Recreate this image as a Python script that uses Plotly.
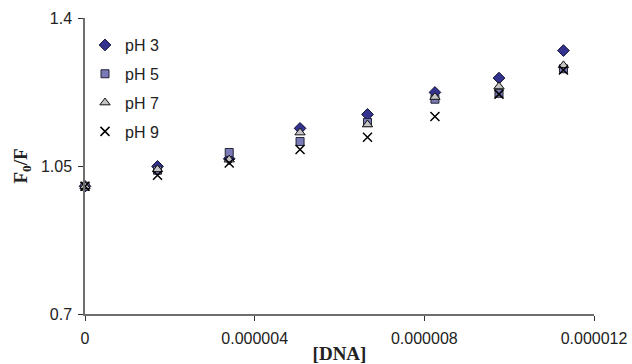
import plotly.graph_objects as go

dna = [0, 1.71e-6, 3.40e-6, 5.07e-6, 6.66e-6, 8.25e-6, 9.76e-6, 11.28e-6]
ph3 = [1.002, 1.049, 1.067, 1.139, 1.172, 1.224, 1.258, 1.323]
ph5 = [1.002, 1.040, 1.082, 1.108, 1.153, 1.208, 1.222, 1.280]
ph7 = [1.002, 1.042, 1.065, 1.129, 1.148, 1.213, 1.238, 1.288]
ph9 = [1.002, 1.028, 1.057, 1.089, 1.118, 1.167, 1.220, 1.277]

names = ["pH 3", "pH 5", "pH 7", "pH 9"]
x_tickvals = [0, 4e-6, 8e-6, 12e-6]
x_ticktext = ["0", "0.000004", "0.000008", "0.000012"]
y_tickvals = [0.7, 1.05, 1.4]
y_ticktext = ["0.7", "1.05", "1.4"]

FONT = "Arial, Liberation Sans, sans-serif"
SERIF = "Liberation Serif, Times New Roman, serif"

styles = [
    dict(symbol="diamond", size=9, color="#33338f", line=dict(color="#111133", width=1)),
    dict(symbol="square", size=8, color="#7a7ab8", line=dict(color="#222233", width=1)),
    dict(symbol="triangle-up", size=9, color="#c4c4c4", line=dict(color="#111111", width=1)),
    dict(symbol="x-thin-open", size=9, color="#000000", line=dict(color="#000000", width=1.5)),
]

fig = go.Figure()
for i, (nm, ys) in enumerate(zip(names, [ph3, ph5, ph7, ph9])):
    fig.add_trace(go.Scatter(x=dna, y=ys, mode="markers", name=nm,
                             marker=styles[i], legendgroup=nm, cliponaxis=False))

fig.update_layout(
    width=632, height=364,
    margin=dict(l=85, r=38, t=18, b=50, autoexpand=False),
    paper_bgcolor="white", plot_bgcolor="white",
    font=dict(family=FONT, size=16, color="#222222"),
    showlegend=True,
    legend=dict(x=0.0, y=0.966, xanchor="left", yanchor="top",
                bgcolor="rgba(0,0,0,0)", font=dict(size=16, family=FONT),
                traceorder="grouped", tracegroupgap=5, itemwidth=30),
    xaxis=dict(range=[0, 12e-6], tickvals=x_tickvals, ticktext=x_ticktext,
               automargin=False,
               showgrid=False, zeroline=False, showline=True, linecolor="#6e6e6e",
               linewidth=1.5, ticks="outside", ticklen=5, tickcolor="#333333",
               ticklabelstandoff=4,
               tickfont=dict(size=16, family=FONT),
               title=dict(text="<b>[DNA]</b>", font=dict(family=SERIF, size=19, color="#222222"), standoff=2)),
    yaxis=dict(range=[0.7, 1.4], tickvals=y_tickvals, ticktext=y_ticktext,
               automargin=False,
               showgrid=False, zeroline=False, showline=True, linecolor="#6e6e6e",
               linewidth=1.5, ticks="outside", ticklen=5, tickcolor="#333333",
               ticklabelstandoff=3,
               tickfont=dict(size=16, family=FONT),
               title=dict(text="<b>F<sub>0</sub>/F</b>", font=dict(family=SERIF, size=19, color="#222222"), standoff=8)),
)

fig.write_html("out.html", config={"displayModeBar": False},
               post_script="document.body.style.margin='0px';")
